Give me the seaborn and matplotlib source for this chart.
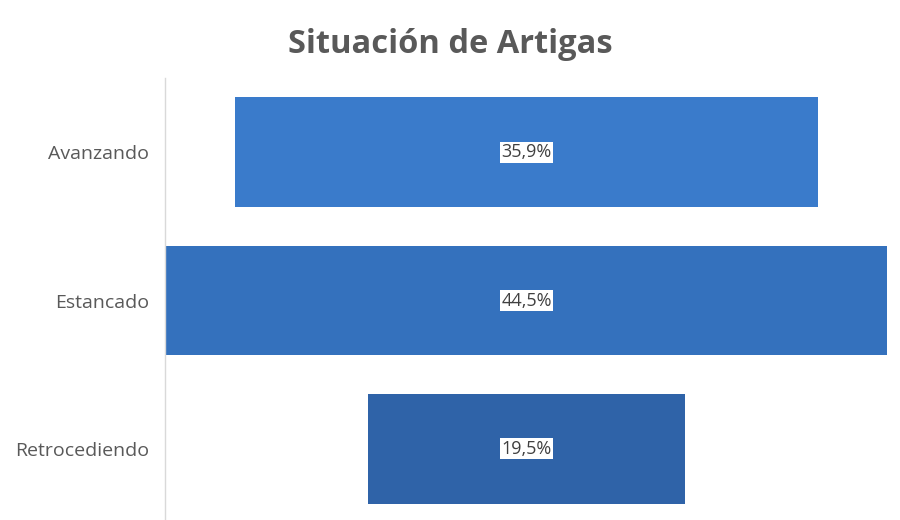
import matplotlib
matplotlib.use("Agg")
import matplotlib.pyplot as plt
import seaborn as sns
import pandas as pd

categories = ["Avanzando", "Estancado", "Retrocediendo"]
values = [35.9, 44.5, 19.5]
labels = ["35,9%", "44,5%", "19,5%"]
colors = ["#3A7BCB", "#3471BD", "#2F63A8"]

sns.set_theme(style="white")
plt.rcParams["font.family"] = ["Open Sans", "DejaVu Sans"]

df = pd.DataFrame({"cat": categories, "val": values})

fig = plt.figure(figsize=(9, 5.2), dpi=100)
ax = fig.add_axes([0.183, -0.006, 0.804, 0.856])

sns.barplot(data=df, x="val", y="cat", hue="cat", palette=colors,
            orient="h", width=0.74, legend=False, ax=ax, saturation=1)

# funnel: centre every bar on zero
for patch in ax.patches:
    w = patch.get_width()
    patch.set_x(-w / 2)
    patch.set_edgecolor("none")

half = max(values) / 2
ax.set_xlim(-half - 0.05, half + 0.05)
ax.set_ylim(2.5, -0.5)

for i, lab in enumerate(labels):
    ax.text(0, i, lab, ha="center", va="center", fontsize=13, color="#404040",
            bbox=dict(facecolor="white", edgecolor="none", pad=1.0))

ax.set_xlabel("")
ax.set_ylabel("")
ax.set_xticks([])
ax.tick_params(axis="y", length=0, pad=11, labelsize=14, labelcolor="#595959")
for side in ["top", "right", "bottom"]:
    ax.spines[side].set_visible(False)
ax.spines["left"].set_color("#D9D9D9")
ax.spines["left"].set_linewidth(1)

fig.text(0.5, 0.915, "Situación de Artigas", ha="center", va="center",
         fontsize=23.5, fontweight="bold", color="#595959")

fig.savefig("out.png", dpi=100)
